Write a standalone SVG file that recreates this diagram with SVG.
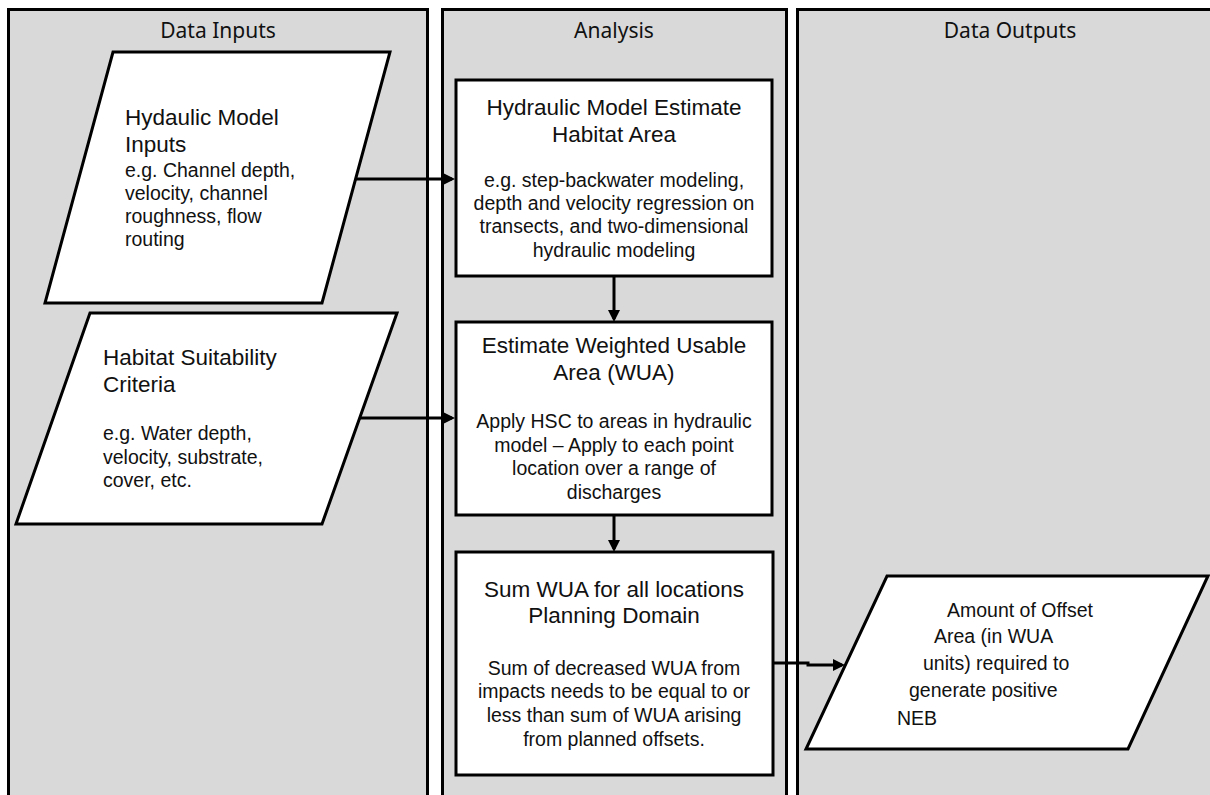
<svg xmlns="http://www.w3.org/2000/svg" width="1210" height="795" viewBox="0 0 1210 795">
  <style>
    .lane { fill: #d9d9d9; stroke: #000; stroke-width: 3; }
    .node { fill: #fff; stroke: #000; stroke-width: 3; }
    .hdr { font-family: "Noto Sans", "Open Sans", sans-serif; font-size: 21px; fill: #111; text-anchor: middle; }
    .ttl { font-family: "Liberation Sans", Arial, sans-serif; font-size: 22.5px; fill: #111; }
    .body { font-family: "Liberation Sans", Arial, sans-serif; font-size: 19.5px; fill: #111; }
    .mid { text-anchor: middle; }
    .conn { fill: none; stroke: #000; stroke-width: 3; marker-end: url(#arrow); }
  </style>
  <defs>
    <marker id="arrow" markerUnits="userSpaceOnUse" markerWidth="13" markerHeight="13" refX="9" refY="6" orient="auto">
      <path d="M0,0 L12,6 L0,12 Z" fill="#000"/>
    </marker>
  </defs>
  <rect width="1210" height="795" fill="#fff"/>

  <g id="lane-inputs">
    <rect class="lane" x="8.5" y="9.5" width="419" height="800"/>
    <text class="hdr" x="218" y="38">Data Inputs</text>
  </g>
  <g id="lane-analysis">
    <rect class="lane" x="442.5" y="9.5" width="344" height="800"/>
    <text class="hdr" x="614" y="38">Analysis</text>
  </g>
  <g id="lane-outputs">
    <rect class="lane" x="797.5" y="9.5" width="430" height="800"/>
    <text class="hdr" x="1010" y="38">Data Outputs</text>
  </g>

  <g id="hydraulic-inputs">
    <polygon class="node" points="113,52 390,52 322,303 45,303"/>
    <text class="ttl" x="125" y="125">Hydaulic Model</text>
    <text class="ttl" x="125" y="152">Inputs</text>
    <text class="body" x="125" y="177">e.g. Channel depth,</text>
    <text class="body" x="125" y="200">velocity, channel</text>
    <text class="body" x="125" y="223">roughness, flow</text>
    <text class="body" x="125" y="246">routing</text>
  </g>

  <g id="hsc">
    <polygon class="node" points="90,313 397,313 322,524 16,524"/>
    <text class="ttl" x="103" y="365">Habitat Suitability</text>
    <text class="ttl" x="103" y="392">Criteria</text>
    <text class="body" x="103" y="440">e.g. Water depth,</text>
    <text class="body" x="103" y="464">velocity, substrate,</text>
    <text class="body" x="103" y="487">cover, etc.</text>
  </g>

  <g id="hydraulic-estimate">
    <rect class="node" x="456" y="80" width="316" height="196"/>
    <text class="ttl mid" x="614" y="115">Hydraulic Model Estimate</text>
    <text class="ttl mid" x="614" y="142">Habitat Area</text>
    <text class="body mid" x="614" y="187">e.g. step-backwater modeling,</text>
    <text class="body mid" x="614" y="210">depth and velocity regression on</text>
    <text class="body mid" x="614" y="233">transects, and two-dimensional</text>
    <text class="body mid" x="614" y="257">hydraulic modeling</text>
  </g>

  <g id="estimate-wua">
    <rect class="node" x="456" y="322" width="316" height="193"/>
    <text class="ttl mid" x="614" y="353">Estimate Weighted Usable</text>
    <text class="ttl mid" x="614" y="380">Area (WUA)</text>
    <text class="body mid" x="614" y="428">Apply HSC to areas in hydraulic</text>
    <text class="body mid" x="614" y="452">model – Apply to each point</text>
    <text class="body mid" x="614" y="475">location over a range of</text>
    <text class="body mid" x="614" y="499">discharges</text>
  </g>

  <g id="sum-wua">
    <rect class="node" x="456" y="552" width="317" height="223"/>
    <text class="ttl mid" x="614" y="597">Sum WUA for all locations</text>
    <text class="ttl mid" x="614" y="623">Planning Domain</text>
    <text class="body mid" x="614" y="675">Sum of decreased WUA from</text>
    <text class="body mid" x="614" y="698">impacts needs to be equal to or</text>
    <text class="body mid" x="614" y="722">less than sum of WUA arising</text>
    <text class="body mid" x="614" y="746">from planned offsets.</text>
  </g>

  <g id="offset-area">
    <polygon class="node" points="887,576 1208,576 1128,749 806,749"/>
    <text class="body" x="947" y="617">Amount of Offset</text>
    <text class="body" x="934" y="643">Area (in WUA</text>
    <text class="body" x="923" y="670">units) required to</text>
    <text class="body" x="909" y="697">generate positive</text>
    <text class="body" x="897" y="725">NEB</text>
  </g>

  <g id="connectors">
    <path class="conn" d="M356,179 L452,179"/>
    <path class="conn" d="M360,418 L452,418"/>
    <path class="conn" d="M614,276 L614,319"/>
    <path class="conn" d="M614,515 L614,549"/>
    <path class="conn" d="M773,663 L808,663 L808,665 L842,665"/>
  </g>
</svg>
